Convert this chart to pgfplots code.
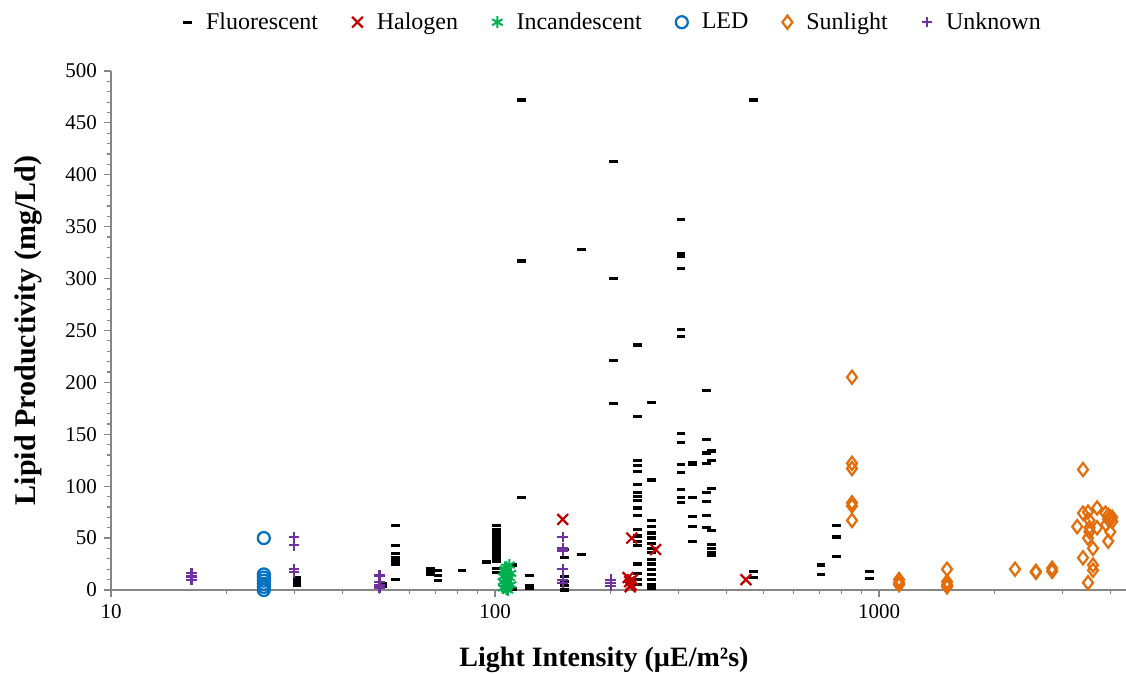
\documentclass[border=0pt]{standalone}
\usepackage{fontspec}
\setmainfont{Liberation Serif}
\usepackage{pgfplots}
\pgfplotsset{compat=1.18}
\definecolor{axisgray}{RGB}{134,134,134}
\definecolor{halred}{RGB}{192,0,0}
\definecolor{incgreen}{RGB}{0,176,80}
\definecolor{ledblue}{RGB}{0,112,192}
\definecolor{sunorange}{RGB}{228,108,10}
\definecolor{unkpurple}{RGB}{112,48,160}
\begin{document}
\begin{tikzpicture}
\begin{axis}[
  scale only axis, width=507.5pt, height=259.5pt,
  xmode=log, xmin=10, xmax=4395, ymin=0, ymax=500,
  axis x line=bottom, axis y line=left,
  axis line style={-, axisgray, line width=0.6pt},
  xtick={10,100,1000}, xticklabels={10,100,1000},
  minor xtick={20,30,40,50,60,70,80,90,200,300,400,500,600,700,800,900,2000,3000,4000},
  ytick={0,50,...,500}, minor y tick num=4,
  tick align=outside, major tick length=3.5pt, minor tick length=2.2pt,
  tick style={axisgray, line width=0.6pt},
  /pgf/number format/assume math mode=true,
  ticklabel style={font=\fontsize{10.5}{12}\selectfont, text=black},
  xlabel={\textbf{Light Intensity (µE/m²s)}},
  ylabel={\textbf{Lipid Productivity (mg/Ld)}},
  xlabel style={font=\fontsize{14}{16}\selectfont, at={(axis description cs:0.4857,-0.1349)}, anchor=center},
  ylabel style={font=\fontsize{15}{17}\selectfont, at={(axis description cs:-0.0818,0.5)}, anchor=center},
  legend style={at={(axis description cs:0.4956,1.094)}, anchor=center, draw=none,
    font=\fontsize{12}{14}\selectfont,
    /tikz/every odd column/.append style={column sep=5pt},
    /tikz/every even column/.append style={column sep=15pt}},
  legend columns=-1,
  clip=false,
]
% Fluorescent
\addplot[only marks, mark=-, mark size=2.2pt, mark options={line width=1.6pt, black}] coordinates {
(30.5,12)(30.5,10)(30.5,8)(30.5,6)(30.5,4)
(51,3)(51,6)
(55,62)(55,43)(55,35)(55,31)(55,28)(55,25)(55,10)
(68,21)(68,18)(68,15)(71,19)(71,14)(71,9)
(82,19)(95,27)
(101,62)(101,58)(101,55)(101,52)(101,49)(101,46)(101,43)(101,40)(101,37)(101,34)(101,31)(101,28)(101,21)(101,17)
(111,24)(111,1)
(117,472)(117,317)(117,89)
(123,14)(123,4)(123,2)
(152,39)(152,31)(152,13)(152,8)(152,4)(152,0)
(168,328)(168,34)
(203,413)(203,300)(203,221)(203,180)
(235,236)(235,167)(235,125)(235,120)(235,114)(235,102)(235,94)(235,90)(235,86)(235,79)(235,72)(235,58)(235,52)(235,47)(235,43)(235,25)(235,16)(235,10)(235,5)
(255,181)(255,106)(255,67)(255,61)(255,55)(255,50)(255,45)(255,40)(255,36)(255,29)(255,25)(255,20)(255,15)(255,10)(255,5)(255,2)
(305,357)(305,324)(305,321)(305,310)(305,251)(305,244)(305,151)(305,142)(305,121)(305,113)(305,97)(305,89)(305,84)
(326,123)(326,121)(326,89)(326,71)(326,61)(326,47)
(356,192)(356,145)(356,132)(356,122)(356,94)(356,85)(356,72)(356,60)
(367,134)(367,125)(367,98)(367,57)(367,44)(367,40)(367,36)(367,33)
(470,472)(470,18)(470,12)
(706,24)(706,15)
(773,62)(773,51)(773,32)
(942,18)(942,11)
};
\addlegendentry{Fluorescent}
% Halogen
\addplot[only marks, mark=x, mark size=3.8pt, mark options={line width=1.1pt, halred}] coordinates {
(150,68)(227,50)(262,39)(222,12)(224,8)(226,5)(228,10)(225,3)(450,10)
};
\addlegendentry{Halogen}
% Incandescent
\addplot[only marks, mark=asterisk, mark size=3pt, mark options={line width=1pt, incgreen}] coordinates {
(105,2)(106,6)(107,10)(108,14)(106,18)(107,22)(109,24)(108,4)(105,8)(109,12)(110,16)(106,20)(108,0)(110,5)(105,13)(107,1)
};
\addlegendentry{Incandescent}
% LED
\addplot[only marks, mark=o, mark size=3pt, mark options={line width=1.1pt, ledblue}] coordinates {
(25,50)(25,15)(25,12)(25,9)(25,6)(25,3)(25,0)
};
\addlegendentry{LED}
% Sunlight
\addplot[only marks, mark=diamond, mark size=3.3pt, mark options={line width=1.1pt, sunorange}] coordinates {
(850,205)(850,122)(850,117)(850,84)(850,81)(850,67)
(1127,10)(1127,7)(1127,5)
(1503,20)(1503,8)(1503,5)(1503,3)
(2259,20)(2560,18)(2560,17)(2822,21)(2822,18)
(3396,116)(3396,74)(3280,61)(3396,31)(3499,75)(3530,67)(3530,60)(3530,56)(3499,50)
(3606,40)(3606,24)(3606,19)(3499,7)(3696,79)(3696,60)
(3885,74)(3950,72)(4000,70)(3950,68)(4046,66)(3900,63)(4000,56)(3950,47)(4046,70)
};
\addlegendentry{Sunlight}
% Unknown
\addplot[only marks, mark=+, mark size=2.6pt, mark options={line width=1.1pt, unkpurple}] coordinates {
(16.2,16)(16.2,13)(16.2,10)
(30,51)(30,43)(30,20)(30,17)
(50,14)(50,8)(50,5)(50,3)(50,2)
(150,51)(150,40)(150,38)(150,20)(150,10)(150,7)
(200,10)(200,7)(200,4)
};
\addlegendentry{Unknown}
\end{axis}
\pgfresetboundingbox
\path[use as bounding box] (-55.5pt,-42.5pt) rectangle (507.5pt,295pt);
\end{tikzpicture}
\end{document}
